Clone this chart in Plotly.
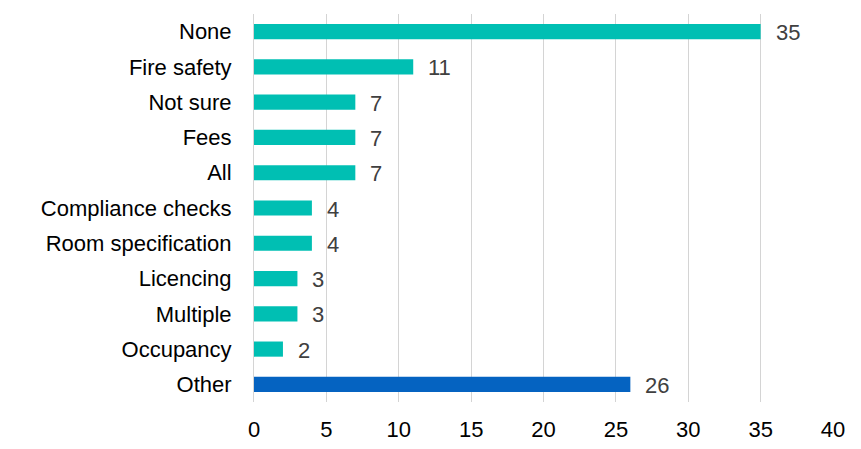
import plotly.graph_objects as go

categories = ["None", "Fire safety", "Not sure", "Fees", "All", "Compliance checks",
              "Room specification", "Licencing", "Multiple", "Occupancy", "Other"]
values = [35, 11, 7, 7, 7, 4, 4, 3, 3, 2, 26]
x_ticks = [0, 5, 10, 15, 20, 25, 30, 35, 40]

colors = ["#00BFB3"] * 10 + ["#0563C1"]
FONT = "Liberation Sans, Arial"
FS = 22

fig = go.Figure(go.Bar(
    y=categories, x=values, orientation="h",
    marker=dict(color=colors, line=dict(width=0)),
    width=0.43, hoverinfo="x+y",
))

for c, v in zip(categories, values):
    fig.add_annotation(x=v, y=c, text=str(v), showarrow=False, xanchor="left",
                       xshift=13, yshift=-1,
                       font=dict(family=FONT, size=FS, color="#404040"))

# page body adds an 8px offset; margins compensate for it
fig.update_layout(
    width=861, height=449,
    margin=dict(l=246, r=36, t=6, b=55, autoexpand=False),
    paper_bgcolor="white", plot_bgcolor="white",
    font=dict(family=FONT, size=FS, color="#000000"),
    showlegend=False,
    xaxis=dict(range=[0, 40], tickvals=x_ticks, showgrid=True, gridcolor="#D4D4D4",
               gridwidth=1, zeroline=False, showline=False, ticks="", automargin=False,
               ticklabelstandoff=12,
               tickfont=dict(family=FONT, size=FS, color="#000000"), fixedrange=True),
    yaxis=dict(categoryorder="array", categoryarray=categories, autorange="reversed",
               showgrid=False, zeroline=False, showline=True, linecolor="#D4D4D4", ticks="",
               automargin=False, ticklabelstandoff=17,
               tickfont=dict(family=FONT, size=FS, color="#000000")),
)

fig.write_html("out.html")
